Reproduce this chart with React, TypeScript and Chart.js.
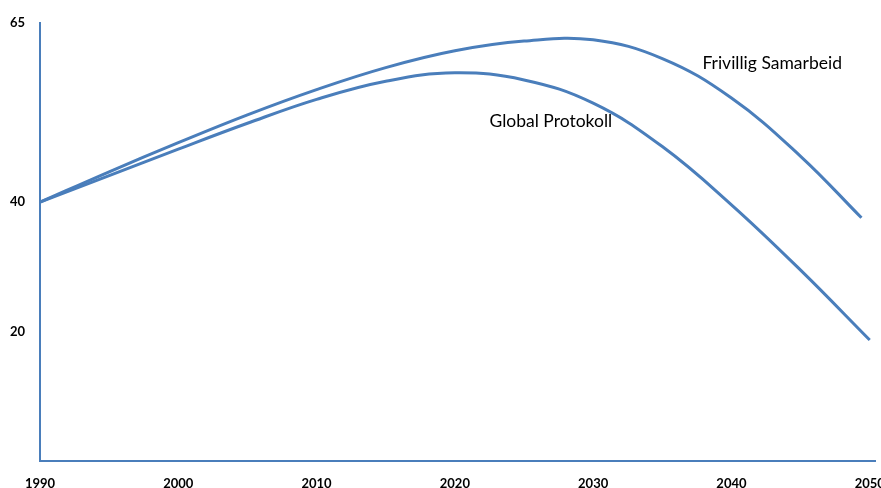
import React, { useEffect, useRef } from "react";
import { Chart, registerables } from "chart.js";

Chart.register(...registerables);

const frivilligYears = [1990, 1995, 2000, 2005, 2010, 2015, 2020, 2025, 2030, 2035, 2040, 2045, 2049.4];
const frivilligValues = [40, 44.7, 49.2, 53.5, 57.4, 60.8, 63.4, 64.9, 65.1, 62.2, 56.1, 47.1, 37.6];

const globalYears = [1990, 1995, 2000, 2005, 2010, 2015, 2020, 2025, 2030, 2035, 2040, 2045, 2050];
const globalValues = [40, 44.1, 48.2, 52.2, 55.9, 58.7, 60.0, 58.9, 55.3, 48.6, 39.6, 29.5, 18.7];

const xTickValues = [1990, 2000, 2010, 2020, 2030, 2040, 2050];
const yTickValues = [20, 40, 67.7];
const yTickLabels = ["20", "40", "65"];

const annotations = [
  { text: "Frivillig Samarbeid", x: 2037.9, y: 61.4 },
  { text: "Global Protokoll", x: 2022.5, y: 52.5 },
];

const BLUE = "#4a7ebb";

export default function App() {
  const ref = useRef<HTMLCanvasElement | null>(null);

  useEffect(() => {
    if (!ref.current) return;
    document.body.style.overflow = "hidden";
    const labelPlugin = {
      id: "labels",
      afterDatasetsDraw(chart: any) {
        const ctx = chart.ctx;
        const xs = chart.scales.x;
        const ys = chart.scales.y;
        ctx.save();
        ctx.font = "17.5px Lato";
        ctx.fillStyle = "#000";
        ctx.textAlign = "left";
        ctx.textBaseline = "middle";
        annotations.forEach((a) => {
          ctx.fillText(a.text, xs.getPixelForValue(a.x), ys.getPixelForValue(a.y));
        });
        ctx.restore();
      },
    };
    const chart = new Chart(ref.current, {
      type: "line",
      data: {
        datasets: [
          {
            label: "Frivillig Samarbeid",
            data: frivilligYears.map((x, i) => ({ x, y: frivilligValues[i] })),
            borderColor: BLUE,
            borderWidth: 3,
            pointRadius: 0,
            tension: 0.4,
            fill: false,
          },
          {
            label: "Global Protokoll",
            data: globalYears.map((x, i) => ({ x, y: globalValues[i] })),
            borderColor: BLUE,
            borderWidth: 3,
            pointRadius: 0,
            tension: 0.4,
            fill: false,
          },
        ],
      },
      options: {
        animation: false,
        responsive: false,
        layout: { padding: { top: 23, right: 24, left: 0, bottom: 0 } },
        plugins: { legend: { display: false }, tooltip: { enabled: false } },
        scales: {
          x: {
            type: "linear",
            min: 1990,
            max: 2050.45,
            afterBuildTicks: (s: any) => {
              s.ticks = xTickValues.map((v) => ({ value: v }));
            },
            afterFit: (s: any) => {
              s.height = 39;
            },
            grid: { display: false, drawTicks: false },
            border: { display: true, color: BLUE, width: 2 },
            ticks: {
              font: { family: "Lato", weight: "bold", size: 13 },
              color: "#000",
              padding: 15,
              maxRotation: 0,
              autoSkip: false,
              callback: (v: any) => String(v),
            },
          },
          y: {
            type: "linear",
            min: 0,
            max: 67.7,
            afterBuildTicks: (s: any) => {
              s.ticks = yTickValues.map((v) => ({ value: v }));
            },
            afterFit: (s: any) => {
              s.width = 40;
            },
            grid: { display: false, drawTicks: false },
            border: { display: true, color: BLUE, width: 2 },
            ticks: {
              font: { family: "Lato", weight: "bold", size: 13 },
              color: "#000",
              padding: 15,
              autoSkip: false,
              callback: (v: any) => {
                const i = yTickValues.indexOf(v);
                return i >= 0 ? yTickLabels[i] : "";
              },
            },
          },
        },
      },
      plugins: [labelPlugin],
    });
    return () => chart.destroy();
  }, []);

  return (
    <div style={{ position: "fixed", left: 0, top: 0, width: 881, height: 488, overflow: "hidden", background: "#fff" }}>
      <canvas ref={ref} width={900} height={500} style={{ display: "block" }} />
    </div>
  );
}
